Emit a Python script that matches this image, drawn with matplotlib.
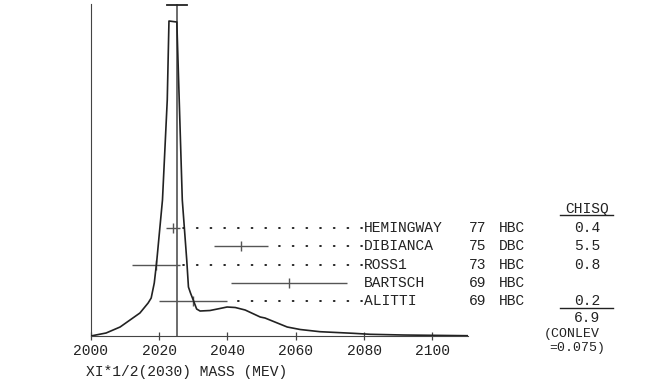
import matplotlib
matplotlib.use("Agg")
import matplotlib.pyplot as plt

# ideogram curve (mass in MeV, height arbitrary)
curve_mass = [2000.0, 2004.5, 2008.6, 2011.5, 2014.4, 2016.8, 2017.7, 2018.6, 2019.3,
              2021.0, 2022.4, 2022.9, 2025.2, 2025.9, 2026.8, 2028.1, 2028.6, 2029.2,
              2030.0, 2031.0, 2032.0, 2034.9, 2037.8, 2039.9, 2042.3, 2045.2, 2049.6,
              2051.0, 2057.5, 2061.3, 2067.1, 2076.8, 2081.8, 2091.5, 2110.2]
curve_height = [0, 3, 9, 16, 23, 33, 38, 53, 74,
                136, 236, 315, 314, 236, 136, 76, 49, 43,
                36, 27, 25, 25.5, 27.5, 29, 28.5, 26, 19,
                18, 9, 6.5, 4.3, 2.7, 1.7, 1.0, 0.3]

# measurements
names = ["HEMINGWAY", "DIBIANCA", "ROSS1", "BARTSCH", "ALITTI"]
years = ["77", "75", "73", "69", "69"]
techs = ["HBC", "DBC", "HBC", "HBC", "HBC"]
mass = [2024.0, 2044.0, 2019.0, 2058.0, 2030.0]
err = [2.0, 8.0, 7.0, 17.0, 10.0]
chisq = ["0.4", "5.5", "0.8", "", "0.2"]
used = [True, True, True, False, True]

mean_mass = 2025.3
mean_err = 2.9
chisq_total = "6.9"
conlev = "0.075"

plt.rcParams["lines.scale_dashes"] = False
mono = "Liberation Mono"
fs = 10.5
ink = "#222222"

fig = plt.figure(figsize=(6.53, 3.82), dpi=100)
ax = fig.add_axes([0.1389, 0.1204, 0.7167 - 0.1389, 0.9895 - 0.1204])
ax.set_xlim(2000, 2110.4)
ax.set_ylim(0, 332)

ax.plot(curve_mass, curve_height, color=ink, lw=1.2, zorder=3)

# weighted mean line with its T bar
ax.plot([mean_mass, mean_mass], [0, 331], color="#444444", lw=1.1)
ax.plot([mean_mass - mean_err, mean_mass + mean_err], [331, 331], color=ink, lw=1.3,
        clip_on=False)

row0, drow = 108.3, 18.4
x_lab = 2080.0
dot_end = 2079.4


def label(x, y, s, ha="left"):
    ax.text(x, y, s, fontfamily=mono, fontsize=fs, va="center", ha=ha,
            color=ink, clip_on=False)


for i in range(len(names)):
    y = row0 - i * drow
    ax.errorbar(mass[i], y, xerr=err[i], fmt="|", ms=7, mew=1.0, color="#555555",
                elinewidth=1.0, capsize=0, zorder=2)
    if used[i]:
        ax.plot([dot_end, mass[i] + err[i] + 1.0], [y, y], color=ink, lw=1.4,
                linestyle=(0, (0.6, 9.26)), dash_capstyle="round")
    label(x_lab, y, names[i])
    label(2110.6, y, years[i])
    label(2119.4, y, techs[i])
    if chisq[i]:
        label(2145.2, y, chisq[i], ha="center")

# chisq column header and totals
label(2145.2, row0 + 18.3, "CHISQ", ha="center")
ax.plot([2137.4, 2152.9], [row0 + 12.5, row0 + 12.5], color=ink, lw=1.0, clip_on=False)
ax.plot([2137.4, 2152.9], [row0 - 4 * drow - 6.5, row0 - 4 * drow - 6.5], color=ink,
        lw=1.0, clip_on=False)
label(2145.2, row0 - 5 * drow + 2, chisq_total, ha="center")
ax.text(2132.5, 2, "(CONLEV", fontfamily=mono, fontsize=9.5, va="center",
        ha="left", color=ink, clip_on=False)
ax.text(2134.2, -12, "=" + conlev + ")", fontfamily=mono, fontsize=9.5, va="center",
        ha="left", color=ink, clip_on=False)

# axes styling
for side in ["top", "right"]:
    ax.spines[side].set_visible(False)
ax.spines["left"].set_color("#444444")
ax.spines["bottom"].set_color("#444444")
ax.set_yticks([])
ax.set_xticks([2000, 2020, 2040, 2060, 2080, 2100])
ax.tick_params(axis="x", direction="inout", length=6, width=0.9, color="#444444",
               pad=3, labelsize=fs, labelcolor=ink)
for lab in ax.get_xticklabels():
    lab.set_fontfamily(mono)

fig.text(86 / 653, 1 - 372 / 382, "XI*1/2(2030) MASS (MEV)", fontfamily=mono,
         fontsize=fs, va="center", ha="left", color=ink)

fig.savefig("out.png", dpi=100)
